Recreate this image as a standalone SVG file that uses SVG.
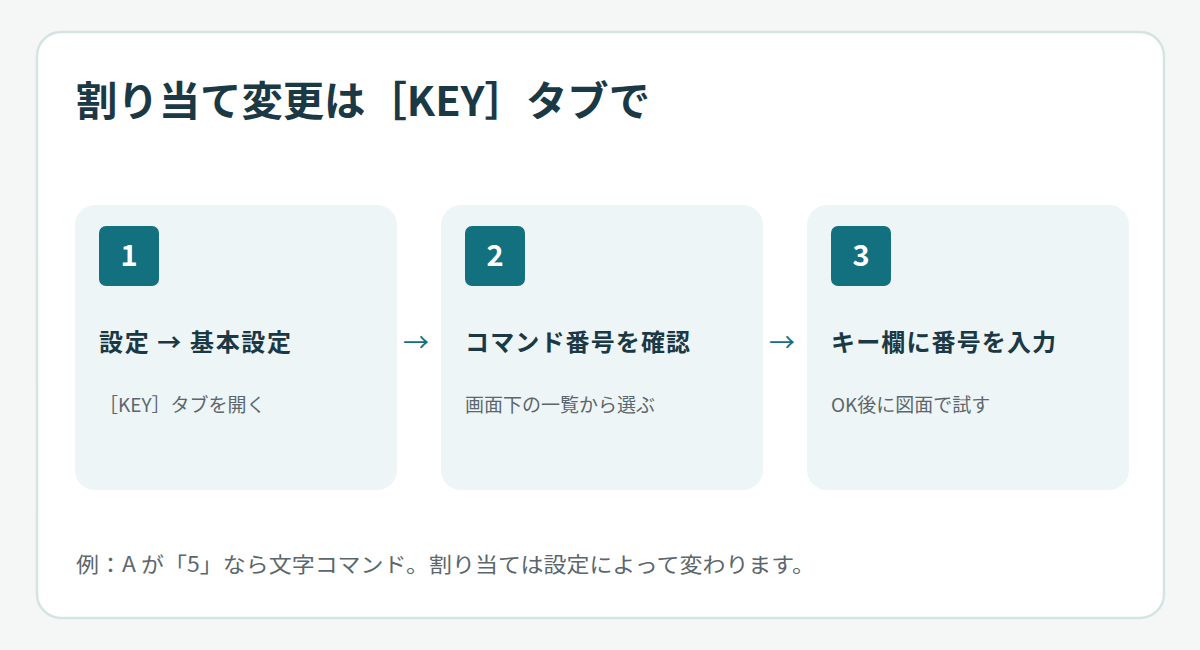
<svg xmlns="http://www.w3.org/2000/svg" width="1200" height="650" viewBox="0 0 1200 650">
<style>
text{font-family:"Noto Sans CJK JP","Noto Sans",sans-serif}
.box{fill:#eef5f7}
.badge{fill:#12707f}
.num{fill:#fff;font-size:29px;font-weight:700;text-anchor:middle}
.h{fill:#1b3945;font-size:24px;font-weight:700}
.s{fill:#5b676c;font-size:19px}
.arr{fill:#12707f;font-size:26px}
</style>
<rect width="1200" height="650" fill="#f5f7f7"/>
<rect x="37" y="32" width="1127" height="586" rx="24" fill="#fff" stroke="#d3e4e2" stroke-width="2.5"/>
<text x="76" y="116" fill="#1b3945" font-size="41" font-weight="700" textLength="574" lengthAdjust="spacingAndGlyphs">割り当て変更は［KEY］タブで</text>
<g id="node1"><rect class="box" x="75" y="205" width="322" height="285" rx="20"/><rect class="badge" x="99" y="226" width="60" height="60" rx="7"/><text class="num" x="129" y="266">1</text><text class="h" x="99" y="351" textLength="192">設定 → 基本設定</text><text class="s" x="99" y="412">［KEY］タブを開く</text></g>
<g id="node2"><rect class="box" x="441" y="205" width="322" height="285" rx="20"/><rect class="badge" x="465" y="226" width="60" height="60" rx="7"/><text class="num" x="495" y="266">2</text><text class="h" x="465" y="351" textLength="225">コマンド番号を確認</text><text class="s" x="465" y="412">画面下の一覧から選ぶ</text></g>
<g id="node3"><rect class="box" x="807" y="205" width="322" height="285" rx="20"/><rect class="badge" x="831" y="226" width="60" height="60" rx="7"/><text class="num" x="861" y="266">3</text><text class="h" x="831" y="351" textLength="225">キー欄に番号を入力</text><text class="s" x="831" y="412">OK後に図面で試す</text></g>
<g id="connectors"><text class="arr" x="403" y="352">→</text><text class="arr" x="769" y="352">→</text></g>
<text x="76" y="572" fill="#5b676c" font-size="21" textLength="739" lengthAdjust="spacingAndGlyphs">例：A が「5」なら文字コマンド。割り当ては設定によって変わります。</text>
</svg>
